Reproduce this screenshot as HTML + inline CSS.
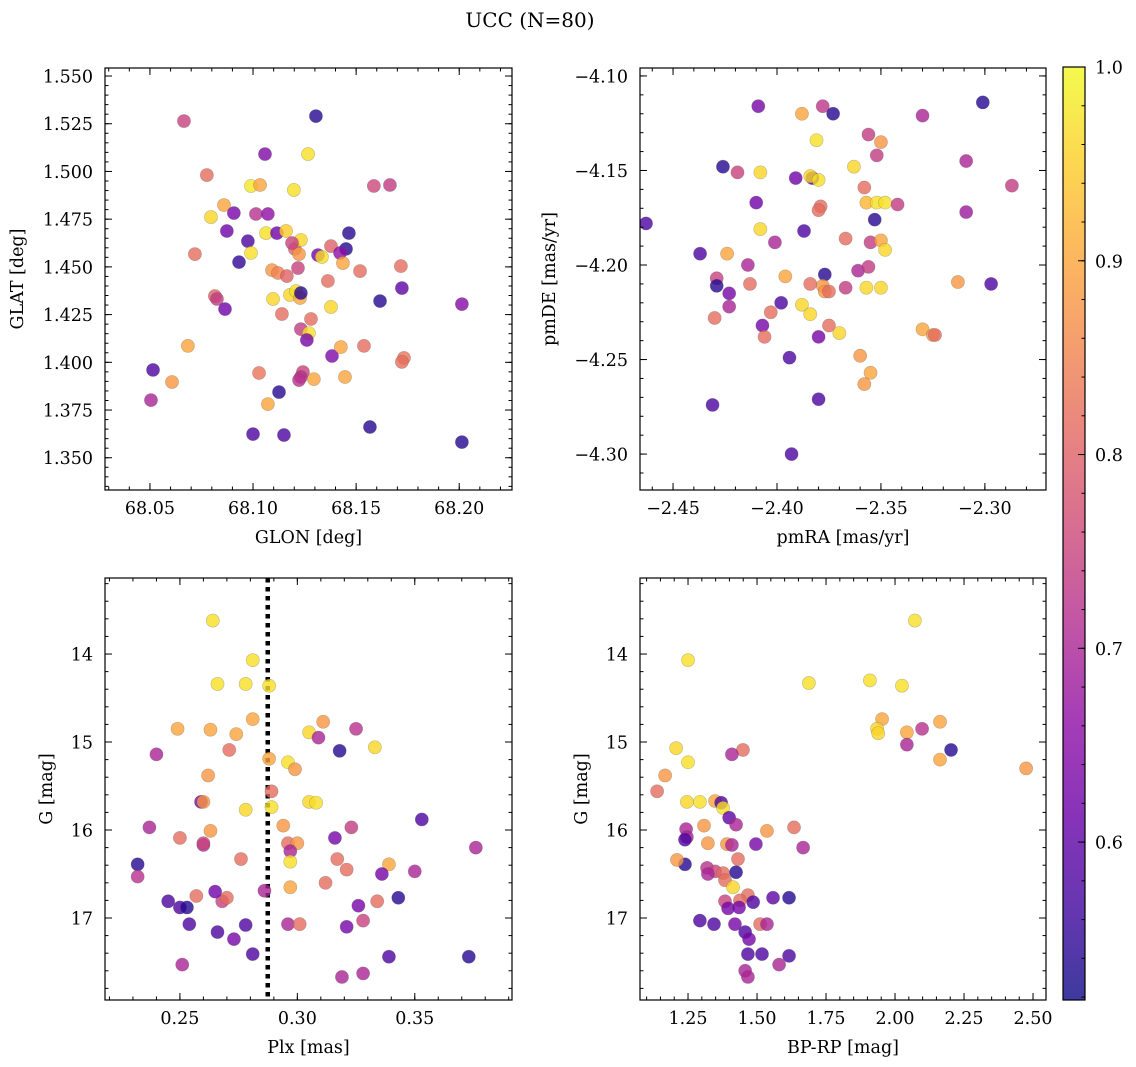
<!DOCTYPE html>
<html><head><meta charset="utf-8"><style>
html,body{margin:0;padding:0;background:#fff;}
svg{display:block;font-family:"DejaVu Serif","Liberation Serif",serif;}
</style></head><body>
<svg id="chart" width="1136" height="1067" viewBox="0 0 1136 1067" xmlns="http://www.w3.org/2000/svg">
<defs>
<linearGradient id="cbgrad" x1="0" y1="1" x2="0" y2="0">
<stop offset="0" stop-color="#0d0887"/><stop offset="0.1" stop-color="#41049d"/><stop offset="0.2" stop-color="#6a00a8"/><stop offset="0.3" stop-color="#8f0da4"/><stop offset="0.4" stop-color="#b12a90"/><stop offset="0.5" stop-color="#cc4778"/><stop offset="0.6" stop-color="#e16462"/><stop offset="0.7" stop-color="#f2844b"/><stop offset="0.8" stop-color="#fca636"/><stop offset="0.9" stop-color="#fcce25"/><stop offset="1" stop-color="#f0f921"/>
</linearGradient>
</defs>
<text x="530" y="27" font-size="20" text-anchor="middle">UCC (N=80)</text>
</svg>
<script>
// ---- Panel 1: GLON / GLAT ----
const p1Glon=[68.0665,68.1305,68.0776,68.1058,68.099,68.1034,68.1267,68.1198,68.1586,68.1664,68.0796,68.0859,68.0907,68.0873,68.0975,68.1014,68.1072,68.1063,68.1116,68.116,68.1203,68.1232,68.1189,68.1223,68.0718,68.0932,68.099,68.1092,68.1121,68.1164,68.1218,68.1315,68.1334,68.1451,68.1465,68.1378,68.1422,68.1436,68.1519,68.1717,68.1363,68.0815,68.0825,68.0864,68.1097,68.1179,68.1208,68.1228,68.1232,68.1378,68.114,68.1281,68.1232,68.1271,68.1261,68.1616,68.1722,68.2013,68.0684,68.1383,68.1426,68.1538,68.1732,68.1722,68.0515,68.1029,68.1242,68.1232,68.1223,68.1295,68.1446,68.0607,68.0505,68.1072,68.1126,68.10,68.115,68.1567,68.2013];
const p1Glat=[1.5264,1.5290,1.4981,1.5091,1.4924,1.4929,1.5091,1.4903,1.4924,1.4929,1.4761,1.4824,1.4782,1.4688,1.4635,1.4777,1.4777,1.4677,1.4677,1.4688,1.4594,1.4641,1.4625,1.4567,1.4567,1.4525,1.4573,1.4483,1.4468,1.4452,1.4494,1.4562,1.4552,1.4594,1.4677,1.4609,1.4573,1.4520,1.4478,1.4504,1.4426,1.4347,1.4332,1.4279,1.4332,1.4353,1.4373,1.4337,1.4363,1.4290,1.4253,1.4227,1.4174,1.4153,1.4117,1.4321,1.4389,1.4305,1.4086,1.4033,1.4080,1.4086,1.4023,1.4002,1.3960,1.3944,1.3949,1.3923,1.3907,1.3912,1.3923,1.3897,1.3802,1.3781,1.3844,1.3624,1.3619,1.3661,1.3582];
const p1Prob=[0.75,0.54,0.82,0.64,0.98,0.9,0.97,0.97,0.76,0.74,0.96,0.9,0.63,0.62,0.58,0.72,0.66,0.97,0.62,0.95,0.8,0.96,0.75,0.88,0.82,0.55,0.97,0.88,0.85,0.8,0.75,0.63,0.97,0.54,0.54,0.8,0.66,0.9,0.82,0.82,0.82,0.8,0.74,0.62,0.96,0.96,0.97,0.9,0.54,0.96,0.82,0.82,0.74,0.97,0.63,0.54,0.6,0.65,0.9,0.64,0.9,0.82,0.83,0.82,0.58,0.83,0.75,0.72,0.72,0.9,0.9,0.88,0.7,0.9,0.54,0.58,0.58,0.54,0.54];
// ---- Panel 2: pmRA / pmDE ----
const p2Pmra=[-2.301,-2.409,-2.378,-2.373,-2.330,-2.388,-2.381,-2.356,-2.350,-2.352,-2.309,-2.426,-2.363,-2.287,-2.419,-2.408,-2.391,-2.383,-2.384,-2.380,-2.358,-2.379,-2.380,-2.357,-2.352,-2.348,-2.342,-2.309,-2.463,-2.410,-2.353,-2.408,-2.387,-2.367,-2.401,-2.355,-2.350,-2.348,-2.437,-2.424,-2.414,-2.361,-2.356,-2.377,-2.396,-2.429,-2.429,-2.313,-2.297,-2.423,-2.413,-2.378,-2.377,-2.375,-2.384,-2.367,-2.357,-2.350,-2.398,-2.388,-2.423,-2.403,-2.384,-2.430,-2.407,-2.375,-2.370,-2.406,-2.380,-2.330,-2.325,-2.324,-2.394,-2.360,-2.355,-2.358,-2.431,-2.380,-2.393];
const p2Pmde=[-4.114,-4.116,-4.116,-4.120,-4.121,-4.120,-4.134,-4.131,-4.135,-4.142,-4.145,-4.148,-4.148,-4.158,-4.151,-4.151,-4.154,-4.154,-4.153,-4.155,-4.159,-4.169,-4.171,-4.167,-4.167,-4.167,-4.168,-4.172,-4.178,-4.167,-4.176,-4.181,-4.182,-4.186,-4.188,-4.188,-4.187,-4.192,-4.194,-4.194,-4.200,-4.203,-4.201,-4.205,-4.206,-4.207,-4.211,-4.209,-4.210,-4.215,-4.210,-4.211,-4.214,-4.214,-4.210,-4.212,-4.212,-4.212,-4.220,-4.221,-4.222,-4.225,-4.226,-4.228,-4.232,-4.232,-4.236,-4.238,-4.238,-4.234,-4.237,-4.237,-4.249,-4.248,-4.257,-4.263,-4.274,-4.271,-4.300];
const p2Prob=[0.54,0.63,0.73,0.54,0.7,0.9,0.97,0.74,0.88,0.74,0.7,0.54,0.96,0.74,0.75,0.96,0.62,0.58,0.96,0.97,0.82,0.82,0.82,0.92,0.97,0.97,0.74,0.68,0.58,0.62,0.54,0.96,0.58,0.82,0.7,0.74,0.9,0.96,0.58,0.9,0.7,0.7,0.74,0.54,0.9,0.75,0.54,0.88,0.58,0.63,0.82,0.88,0.88,0.82,0.82,0.74,0.96,0.96,0.58,0.96,0.7,0.82,0.96,0.82,0.63,0.82,0.96,0.82,0.63,0.9,0.88,0.82,0.58,0.88,0.9,0.88,0.58,0.58,0.58];
// ---- Panel 3: Plx / G ----
const p3Plx=[0.264,0.281,0.278,0.266,0.288,0.281,0.249,0.263,0.274,0.311,0.325,0.305,0.309,0.271,0.240,0.318,0.333,0.288,0.296,0.299,0.262,0.289,0.278,0.289,0.259,0.260,0.305,0.308,0.353,0.263,0.237,0.294,0.323,0.250,0.316,0.260,0.260,0.296,0.300,0.297,0.376,0.297,0.317,0.276,0.339,0.232,0.321,0.336,0.350,0.232,0.297,0.268,0.270,0.265,0.286,0.257,0.245,0.250,0.253,0.312,0.334,0.326,0.343,0.328,0.321,0.296,0.301,0.278,0.254,0.266,0.273,0.281,0.339,0.373,0.251,0.319,0.328];
const p3G=[13.62,14.07,14.34,14.34,14.36,14.74,14.85,14.86,14.91,14.77,14.85,14.89,14.95,15.09,15.14,15.10,15.06,15.19,15.23,15.31,15.38,15.56,15.77,15.74,15.68,15.68,15.68,15.69,15.88,16.01,15.97,15.95,15.97,16.09,16.09,16.17,16.15,16.15,16.15,16.24,16.20,16.36,16.33,16.33,16.39,16.39,16.45,16.50,16.47,16.53,16.65,16.81,16.77,16.70,16.69,16.75,16.81,16.88,16.88,16.60,16.81,16.86,16.77,17.03,17.10,17.07,17.07,17.08,17.07,17.16,17.24,17.41,17.44,17.44,17.53,17.67,17.63];
const p3Prob=[0.97,0.97,0.97,0.97,0.97,0.9,0.9,0.9,0.9,0.88,0.72,0.96,0.7,0.82,0.7,0.54,0.96,0.9,0.97,0.88,0.88,0.82,0.96,0.97,0.63,0.88,0.96,0.97,0.58,0.88,0.7,0.88,0.74,0.82,0.63,0.72,0.75,0.82,0.88,0.7,0.7,0.97,0.82,0.82,0.9,0.54,0.82,0.63,0.7,0.72,0.9,0.75,0.82,0.62,0.7,0.82,0.58,0.58,0.54,0.82,0.82,0.63,0.54,0.75,0.63,0.7,0.82,0.58,0.58,0.58,0.63,0.58,0.58,0.54,0.7,0.7,0.7];
const p3LinePlx=0.2874;
// ---- Panel 4: BP-RP / G ----
const p4Bprp=[2.072,1.250,1.688,1.909,2.025,1.953,2.163,2.043,1.935,1.939,2.098,2.043,2.203,1.207,1.449,1.409,1.250,2.163,2.475,1.167,1.138,1.246,1.293,1.348,1.370,1.377,1.399,1.424,1.308,1.243,1.246,1.239,1.536,1.634,1.322,1.391,1.409,1.496,1.667,1.239,1.210,1.431,1.319,1.348,1.377,1.322,1.424,1.384,1.413,1.467,1.438,1.384,1.395,1.435,1.486,1.558,1.616,1.293,1.344,1.420,1.457,1.511,1.536,1.471,1.467,1.518,1.616,1.580,1.457,1.467];
const p4G=[13.62,14.07,14.33,14.30,14.36,14.74,14.77,14.89,14.85,14.90,14.85,15.03,15.09,15.07,15.09,15.14,15.23,15.20,15.30,15.38,15.56,15.68,15.68,15.67,15.69,15.75,15.86,15.94,15.95,15.99,16.08,16.11,16.01,15.97,16.15,16.16,16.17,16.16,16.20,16.39,16.34,16.33,16.43,16.47,16.49,16.50,16.48,16.57,16.65,16.74,16.80,16.81,16.89,16.88,16.82,16.77,16.77,17.03,17.07,17.07,17.16,17.07,17.07,17.24,17.41,17.41,17.43,17.53,17.60,17.67];
const p4Prob=[0.97,0.97,0.97,0.97,0.97,0.9,0.9,0.9,0.96,0.96,0.72,0.7,0.54,0.96,0.82,0.7,0.97,0.9,0.88,0.88,0.82,0.96,0.97,0.9,0.58,0.97,0.6,0.7,0.88,0.7,0.7,0.58,0.88,0.82,0.88,0.88,0.7,0.63,0.7,0.54,0.88,0.82,0.72,0.75,0.82,0.7,0.54,0.82,0.96,0.82,0.82,0.75,0.63,0.63,0.58,0.6,0.54,0.58,0.58,0.63,0.58,0.82,0.7,0.63,0.58,0.58,0.58,0.7,0.7,0.7];
// ---- colorbar ----
const cbTicks=[0.6,0.7,0.8,0.9,1.0];
const VMIN=0.5185, VMAX=1.0;

const NS="http://www.w3.org/2000/svg";
const svg=document.getElementById('chart');
const FS=17.5;
function mk(tag,attrs,parent){const e=document.createElementNS(NS,tag);for(const k in attrs)e.setAttribute(k,attrs[k]);(parent||svg).appendChild(e);return e;}
const stops=[[13,8,135],[65,4,157],[106,0,168],[143,13,164],[177,42,144],[204,71,120],[225,100,98],[242,132,75],[252,166,54],[252,206,37],[240,249,33]];
function plasma(p){let t=(p-VMIN)/(VMAX-VMIN);t=Math.max(0,Math.min(1,t))*10;const i=Math.min(9,Math.floor(t)),f=t-i;const a=stops[i],b=stops[i+1];return 'rgb('+[0,1,2].map(k=>Math.round(a[k]+(b[k]-a[k])*f)).join(',')+')';}
function fmt(v,d){return (v<0?'\u2212':'')+Math.abs(v).toFixed(d);}

function panel(o){
  const g=mk('g',{});
  
  
  const sx=v=>o.L+(v-o.xlim[0])/(o.xlim[1]-o.xlim[0])*(o.R-o.L);
  const sy=v=>o.B-(v-o.ylim[0])/(o.ylim[1]-o.ylim[0])*(o.B-o.T);
  const clip='c'+o.name;
  const cp=mk('clipPath',{id:clip},g);mk('rect',{x:o.L,y:o.T,width:o.R-o.L,height:o.B-o.T},cp);
  const pts=mk('g',{'clip-path':'url(#'+clip+')'},g);
  if(o.extra)o.extra(pts,sx,sy);
  for(let i=0;i<o.xs.length;i++){
    const c=mk('circle',{cx:sx(o.xs[i]),cy:sy(o.ys[i]),r:6.6,fill:plasma(o.cs[i]),'fill-opacity':0.8,stroke:'#555','stroke-opacity':0.35,'stroke-width':0.6},pts);
    
    
  }
  const fr=mk('rect',{x:o.L,y:o.T,width:o.R-o.L,height:o.B-o.T,fill:'none',stroke:'#000','stroke-width':1.2},g);
  
  
  const tk=mk('g',{stroke:'#000','stroke-width':1},g);
  function ticks(lo,hi,step,isX,len){
    const n=Math.round((hi-lo)/step);
    for(let k=0;k<=n;k++){const v=lo+k*step;
      if(isX){const x=sx(v);if(x<o.L-0.5||x>o.R+0.5)continue;mk('line',{x1:x,x2:x,y1:o.B,y2:o.B-len},tk);mk('line',{x1:x,x2:x,y1:o.T,y2:o.T+len},tk);}
      else{const y=sy(v);if(y<o.T-0.5||y>o.B+0.5)continue;mk('line',{y1:y,y2:y,x1:o.L,x2:o.L+len},tk);mk('line',{y1:y,y2:y,x1:o.R,x2:o.R-len},tk);}
    }}
  ticks(o.xminor[0],o.xminor[1],o.xminor[2],true,3.5);
  ticks(o.yminor[0],o.yminor[1],o.yminor[2],false,3.5);
  o.xt.forEach(v=>{mk('line',{x1:sx(v),x2:sx(v),y1:o.B,y2:o.B-7},tk);mk('line',{x1:sx(v),x2:sx(v),y1:o.T,y2:o.T+7},tk);
    const t=mk('text',{x:sx(v),y:o.B+24,'font-size':FS,'text-anchor':'middle'},g);t.textContent=fmt(v,o.xd);
    
    });
  o.yt.forEach(v=>{mk('line',{y1:sy(v),y2:sy(v),x1:o.L,x2:o.L+7},tk);mk('line',{y1:sy(v),y2:sy(v),x1:o.R,x2:o.R-7},tk);
    const t=mk('text',{x:o.L-12,y:sy(v)+6.5,'font-size':FS,'text-anchor':'end'},g);t.textContent=fmt(v,o.yd);
    
    });
  const xl=mk('text',{x:(o.L+o.R)/2,y:o.B+53,'font-size':FS,'text-anchor':'middle'},g);xl.textContent=o.xlabel;
  
  
  const yc=(o.T+o.B)/2;
  const yl=mk('text',{x:o.ylx,y:yc,'font-size':FS,'text-anchor':'middle',transform:'rotate(-90 '+o.ylx+' '+yc+')'},g);yl.textContent=o.ylabel;
  
  
}
const r=(a,b,s)=>{const o=[];for(let v=a;v<=b+1e-9;v+=s)o.push(+v.toFixed(4));return o;};
panel({name:'panel-glon-glat',L:105,R:512,T:68,B:490,xlim:[68.0282,68.2256],ylim:[1.3331,1.5542],xs:p1Glon,ys:p1Glat,cs:p1Prob,
  xt:r(68.05,68.20,0.05),yt:r(1.35,1.55,0.025),xd:2,yd:3,xminor:[68.03,68.23,0.01],yminor:[1.335,1.555,0.005],xlabel:'GLON [deg]',ylabel:'GLAT [deg]',ylx:23});
panel({name:'panel-pmra-pmde',L:640,R:1046,T:68,B:490,xlim:[-2.4659,-2.2706],ylim:[-4.3190,-4.0958],xs:p2Pmra,ys:p2Pmde,cs:p2Prob,
  xt:r(-2.45,-2.30,0.05),yt:r(-4.30,-4.10,0.05),xd:2,yd:2,xminor:[-2.46,-2.27,0.01],yminor:[-4.31,-4.10,0.01],xlabel:'pmRA [mas/yr]',ylabel:'pmDE [mas/yr]',ylx:555});
panel({name:'panel-plx-g',L:105,R:512,T:578,B:1000,xlim:[0.2181,0.3914],ylim:[17.932,13.136],xs:p3Plx,ys:p3G,cs:p3Prob,
  xt:[0.25,0.30,0.35],yt:[14,15,16,17],xd:2,yd:0,xminor:[0.22,0.39,0.01],yminor:[13.2,17.8,0.2],xlabel:'Plx [mas]',ylabel:'G [mag]',ylx:52,
  extra:(g,sx,sy)=>{const l=mk('line',{x1:sx(p3LinePlx),x2:sx(p3LinePlx),y1:578,y2:1000,stroke:'#000','stroke-width':4.5,'stroke-dasharray':'4.5 4.5'},g);
    
    }});
panel({name:'panel-bprp-g',L:640,R:1046,T:578,B:1000,xlim:[1.076,2.547],ylim:[17.932,13.136],xs:p4Bprp,ys:p4G,cs:p4Prob,
  xt:[1.25,1.5,1.75,2.0,2.25,2.5],yt:[14,15,16,17],xd:2,yd:0,xminor:[1.1,2.5,0.05],yminor:[13.2,17.8,0.2],xlabel:'BP-RP [mag]',ylabel:'G [mag]',ylx:587});
// colorbar
const cb=mk('g',{});


const cbT=67,cbB=1000,cbL=1063,cbR=1085;
mk('rect',{x:cbL,y:cbT,width:cbR-cbL,height:cbB-cbT,fill:'url(#cbgrad)','fill-opacity':0.8},cb);
mk('rect',{x:cbL,y:cbT,width:cbR-cbL,height:cbB-cbT,fill:'none',stroke:'#000','stroke-width':1.2},cb);
const cy=v=>cbB-(v-VMIN)/(VMAX-VMIN)*(cbB-cbT);
for(let v=0.52;v<=1.0001;v+=0.02){mk('line',{x1:cbR,x2:cbR-3.5,y1:cy(v),y2:cy(v),stroke:'#000'},cb);}
cbTicks.forEach(v=>{mk('line',{x1:cbR,x2:cbR-7,y1:cy(v),y2:cy(v),stroke:'#000'},cb);
  const t=mk('text',{x:cbR+10,y:cy(v)+6.5,'font-size':FS},cb);t.textContent=v.toFixed(1);
  
  });
</script>
</body></html>
